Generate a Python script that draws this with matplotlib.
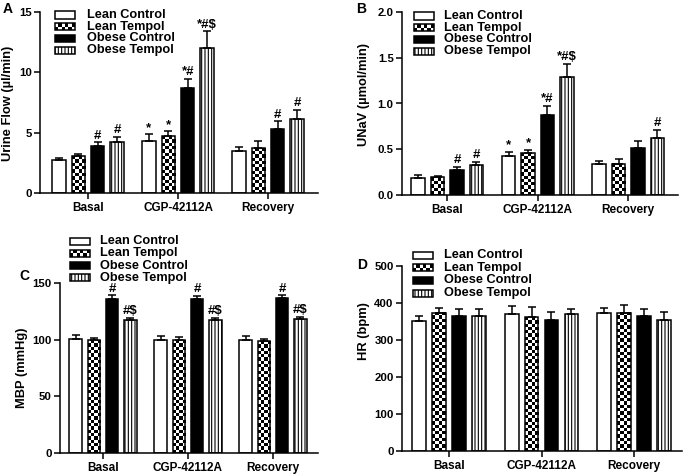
import matplotlib

matplotlib.use('Agg')
import matplotlib.pyplot as plt
import numpy as np
from matplotlib.patches import Rectangle

plt.rcParams['font.family'] = ['Liberation Sans', 'DejaVu Sans']
plt.rcParams['font.weight'] = 'bold'
plt.rcParams['hatch.linewidth'] = 0.8

GROUPS = ['Basal', 'CGP-42112A', 'Recovery']
SERIES = ['Lean Control', 'Lean Tempol', 'Obese Control', 'Obese Tempol']

# Urine flow (ul/min), one row per series, one column per group
urine_mean = [[2.7, 4.35, 3.45], [3.05, 4.7, 3.7], [3.9, 8.7, 5.3], [4.25, 12.0, 6.15]]
urine_err = [[0.2, 0.5, 0.4], [0.2, 0.4, 0.6], [0.3, 0.75, 0.65], [0.4, 1.4, 0.75]]
urine_marks = [['', '*', ''], ['', '*', ''], ['#', '*#', '#'], ['#', '*#$', '#']]

# Urinary sodium excretion (umol/min)
unav_mean = [[0.19, 0.425, 0.335], [0.195, 0.455, 0.34], [0.275, 0.87, 0.51], [0.33, 1.29, 0.625]]
unav_err = [[0.025, 0.045, 0.04], [0.015, 0.035, 0.055], [0.03, 0.105, 0.085], [0.035, 0.14, 0.09]]
unav_marks = [['', '*', ''], ['', '*', ''], ['#', '*#', ''], ['#', '*#$', '#']]

# Mean blood pressure (mmHg)
mbp_mean = [[101, 100, 100], [99.5, 99.5, 98.5], [136, 135.5, 137], [117, 117.5, 118]]
mbp_err = [[3, 3.5, 3.5], [2, 2.5, 2], [3, 3, 2], [2, 1.5, 2]]
mbp_marks = [['', '', ''], ['', '', ''], ['#', '#', '#'], ['#$', '#$', '#$']]

# Heart rate (bpm)
hr_mean = [[352, 370, 373], [373, 362, 373], [364, 353, 364], [364, 371, 353]]
hr_err = [[13, 22, 14], [13, 28, 22], [21, 22, 20], [21, 13, 22]]
hr_marks = [['', '', ''], ['', '', ''], ['', '', ''], ['', '', '']]

W, H = 685, 474
PITCH = 0.215
BAR_W = 0.148
CELL = 3.3  # checker cell size in pixels
LW = 1.1

fig = plt.figure(figsize=(W / 100, H / 100), dpi=100)


def px_axes(left, top, right, bottom):
    return fig.add_axes([left / W, 1 - bottom / H, (right - left) / W, (bottom - top) / H])


def checker(ax, x0, w, h):
    bb = ax.get_window_extent()
    x_lo, x_hi = ax.get_xlim()
    y_lo, y_hi = ax.get_ylim()
    nx = max(1, round(w * bb.width / (x_hi - x_lo) / CELL))
    ny = max(1, round(h * bb.height / (y_hi - y_lo) / CELL))
    img = np.add.outer(np.arange(ny), np.arange(nx)) % 2
    ax.imshow(img, cmap='gray', vmin=0, vmax=1, extent=(x0, x0 + w, 0, h),
              aspect='auto', interpolation='nearest', origin='lower', zorder=2.1)


def panel(ax, means, errs, marks, ylim, yticks, xlim, fmt):
    ax.set_xlim(*xlim)
    ax.set_ylim(*ylim)
    offsets = (np.arange(4) - 1.5) * PITCH
    for i in range(4):
        x = np.arange(3) + offsets[i]
        face = {0: 'white', 1: 'none', 2: 'black', 3: 'white'}[i]
        hatch = '|||||' if i == 3 else None
        ax.bar(x, means[i], BAR_W, color=face, edgecolor='black', linewidth=LW,
               hatch=hatch, zorder=2.2)
        if i == 1:
            for xi, m in zip(x, means[i]):
                checker(ax, xi - BAR_W / 2, BAR_W, m)
        ax.errorbar(x, means[i], yerr=[np.zeros(3), errs[i]], fmt='none', ecolor='black',
                    elinewidth=LW, capsize=3, capthick=LW, zorder=3)
        for xi, m, e, t in zip(x, means[i], errs[i], marks[i]):
            if t:
                ax.annotate(t, (xi, m + e), xytext=(0, 0.5), textcoords='offset points',
                            ha='center', va='bottom', fontsize=9.5, fontweight='bold')
    ax.set_xticks(range(3), GROUPS)
    ax.set_yticks(yticks, [fmt.format(v) for v in yticks])
    for s in ('top', 'right'):
        ax.spines[s].set_visible(False)
    for s in ('left', 'bottom'):
        ax.spines[s].set_linewidth(LW)
    ax.tick_params(length=4.5, width=LW, pad=1.5)
    ax.tick_params(axis='x', labelsize=8.5, pad=2)
    ax.tick_params(axis='y', labelsize=8.2)


def legend(x_box, y_first, dy, x_text):
    for i, label in enumerate(SERIES):
        y = y_first + i * dy
        x0, y0, bw, bh = x_box / W, 1 - (y + 3.5) / H, 20 / W, 7 / H
        face = 'black' if i == 2 else 'white'
        hatch = '|||||' if i == 3 else None
        fig.add_artist(Rectangle((x0, y0), bw, bh, transform=fig.transFigure,
                                 facecolor=face, edgecolor='black', linewidth=LW, hatch=hatch))
        if i == 1:
            for cx in range(6):
                for cy in range(2):
                    if (cx + cy) % 2 == 0:
                        fig.add_artist(Rectangle((x0 + cx * bw / 6, y0 + cy * bh / 2), bw / 6, bh / 2,
                                                 transform=fig.transFigure, facecolor='black',
                                                 edgecolor='none'))
        fig.text(x_text / W, 1 - y / H, label, va='center', ha='left', fontsize=9.2, fontweight='bold')


def side_text(x, y, s, **kw):
    fig.text(x / W, 1 - y / H, s, ha='center', va='center', fontweight='bold', **kw)


ax_a = px_axes(40, 12, 318, 193)
panel(ax_a, urine_mean, urine_err, urine_marks, (0, 15), [0, 5, 10, 15], (-0.533, 2.555), '{:g}')
ax_b = px_axes(402, 12, 678, 195)
panel(ax_b, unav_mean, unav_err, unav_marks, (0, 2.0), [0, 0.5, 1.0, 1.5, 2.0], (-0.5, 2.55), '{:.1f}')
ax_c = px_axes(60, 283, 318, 453)
panel(ax_c, mbp_mean, mbp_err, mbp_marks, (0, 150), [0, 50, 100, 150], (-0.506, 2.53), '{:g}')
ax_d = px_axes(402, 266, 682, 451)
panel(ax_d, hr_mean, hr_err, hr_marks, (0, 500), [0, 100, 200, 300, 400, 500], (-0.51, 2.52), '{:g}')

legend(55, 15, 11.7, 87)
legend(414, 16, 11.7, 444)
legend(70, 241, 12.3, 100)
legend(413, 255, 12.7, 444)

side_text(8, 103, 'Urine Flow (µl/min)', rotation=90, fontsize=9.3)
side_text(364, 95, 'UNaV (µmol/min)', rotation=90, fontsize=9.3)
side_text(22, 368, 'MBP (mmHg)', rotation=90, fontsize=9.3)
side_text(364, 331, 'HR (bpm)', rotation=90, fontsize=9.3)

side_text(8, 9, 'A', fontsize=10)
side_text(361, 9, 'B', fontsize=10)
side_text(24, 276, 'C', fontsize=10)
side_text(362, 265, 'D', fontsize=10)

fig.savefig('out.png', dpi=100, facecolor='white')
